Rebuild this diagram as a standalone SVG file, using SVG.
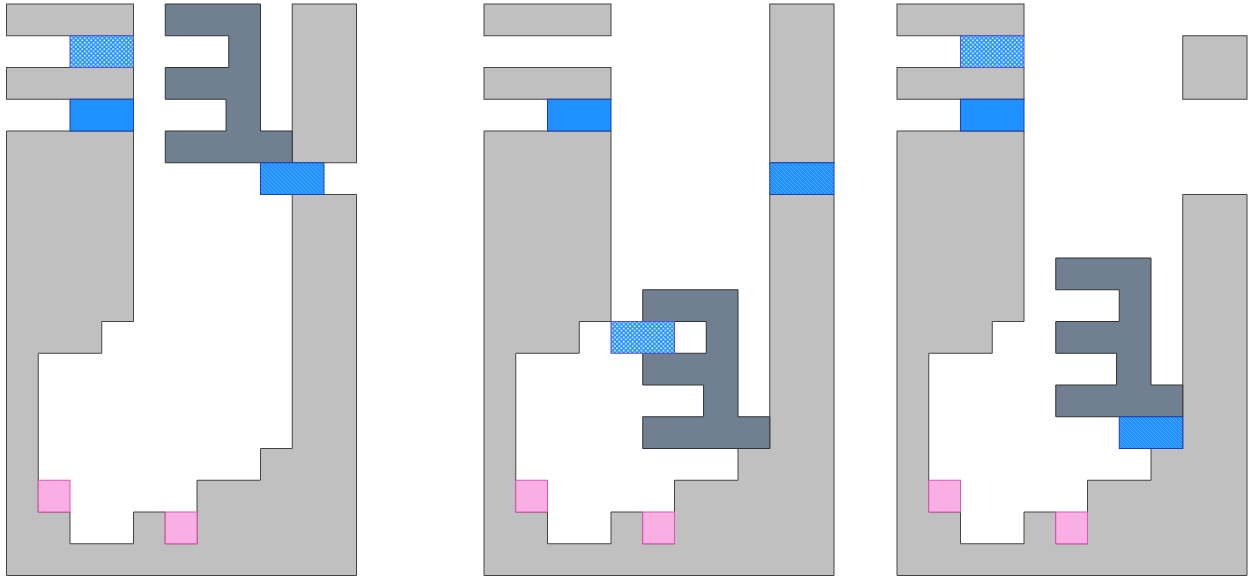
<svg xmlns="http://www.w3.org/2000/svg" width="1249" height="577" viewBox="0 0 1249 577">
<defs>
<style>
.wall{fill:#c0c0c0;stroke:#444;stroke-width:1}
.e{fill:#708090;stroke:#333;stroke-width:1}
.blue{fill:#1e90ff;stroke:#1f3fb0;stroke-width:1}
.chk{fill:url(#checker);stroke:#5a4fd0;stroke-width:1}
.hat{fill:url(#hatch);stroke:#1f3fb0;stroke-width:1}
.pink{fill:#f9aee4;stroke:#e055b5;stroke-width:1}
</style>
<pattern id="checker" patternUnits="userSpaceOnUse" width="4.4" height="4.4">
<rect width="4.4" height="4.4" fill="#1e90ff"/>
<rect x="0.3" y="0.3" width="1.6" height="1.6" fill="#ffffff"/>
<rect x="2.5" y="2.5" width="1.6" height="1.6" fill="#ffffff"/>
</pattern>
<pattern id="hatch" patternUnits="userSpaceOnUse" width="4" height="4">
<rect width="4" height="4" fill="#1e90ff"/>
<path d="M-1,-1 L5,5 M-1,3 L1,5 M3,-1 L5,1" stroke="#5cb0ff" stroke-width="0.8"/>
</pattern>
<polygon id="big" points="0,127 127,127 127,317.5 95.25,317.5 95.25,349.25 31.75,349.25 31.75,508 63.5,508 63.5,539.75 127,539.75 127,508 158.75,508 158.75,539.75 190.5,539.75 190.5,476.25 254,476.25 254,444.5 285.75,444.5 285.75,190.5 350,190.5 350,571.5 0,571.5"/>
<polygon id="eshape" points="0,0 95.25,0 95.25,127 127,127 127,158.75 0,158.75 0,127 60.8,127 60.8,95.25 0,95.25 0,63.5 63.5,63.5 63.5,31.75 0,31.75"/>
</defs>

<g id="panel1" transform="translate(6.5,4)">
<g id="p1-walls">
<rect class="wall" x="0" y="0" width="127" height="31.75"/>
<rect class="wall" x="0" y="63.5" width="127" height="31.75"/>
<use href="#big" class="wall"/>
<rect class="wall" x="285.75" y="0" width="64.25" height="158.75"/>
</g>
<g id="p1-piece"><use href="#eshape" class="e" transform="translate(158.75,0)"/></g>
<g id="p1-marks">
<rect class="chk" x="63.5" y="31.75" width="63.5" height="31.75"/>
<rect class="blue" x="63.5" y="95.25" width="63.5" height="31.75"/>
<rect class="hat" x="254" y="158.75" width="63.5" height="31.75"/>
<rect class="pink" x="31.75" y="476.25" width="31.75" height="31.75"/>
<rect class="pink" x="158.75" y="508" width="31.75" height="31.75"/>
</g>
</g>

<g id="panel2" transform="translate(484,4)">
<g id="p2-walls">
<rect class="wall" x="0" y="0" width="127" height="31.75"/>
<rect class="wall" x="0" y="63.5" width="127" height="31.75"/>
<use href="#big" class="wall"/>
<rect class="wall" x="285.75" y="0" width="64.25" height="158.75"/>
</g>
<g id="p2-piece"><use href="#eshape" class="e" transform="translate(158.75,285.75)"/></g>
<g id="p2-marks">
<rect class="blue" x="63.5" y="95.25" width="63.5" height="31.75"/>
<rect class="hat" x="285.75" y="158.75" width="64.25" height="31.75"/>
<rect class="chk" x="127" y="317.5" width="63.5" height="31.75"/>
<rect class="pink" x="31.75" y="476.25" width="31.75" height="31.75"/>
<rect class="pink" x="158.75" y="508" width="31.75" height="31.75"/>
</g>
</g>

<g id="panel3" transform="translate(897,4)">
<g id="p3-walls">
<rect class="wall" x="0" y="0" width="127" height="31.75"/>
<rect class="wall" x="0" y="63.5" width="127" height="31.75"/>
<use href="#big" class="wall"/>
<rect class="wall" x="285.75" y="31.75" width="64.25" height="63.5"/>
</g>
<g id="p3-piece"><use href="#eshape" class="e" transform="translate(158.75,254)"/></g>
<g id="p3-marks">
<rect class="chk" x="63.5" y="31.75" width="63.5" height="31.75"/>
<rect class="blue" x="63.5" y="95.25" width="63.5" height="31.75"/>
<rect class="hat" x="222.25" y="412.75" width="63.5" height="31.75"/>
<rect class="pink" x="31.75" y="476.25" width="31.75" height="31.75"/>
<rect class="pink" x="158.75" y="508" width="31.75" height="31.75"/>
</g>
</g>

<g id="connectors"/>
</svg>
